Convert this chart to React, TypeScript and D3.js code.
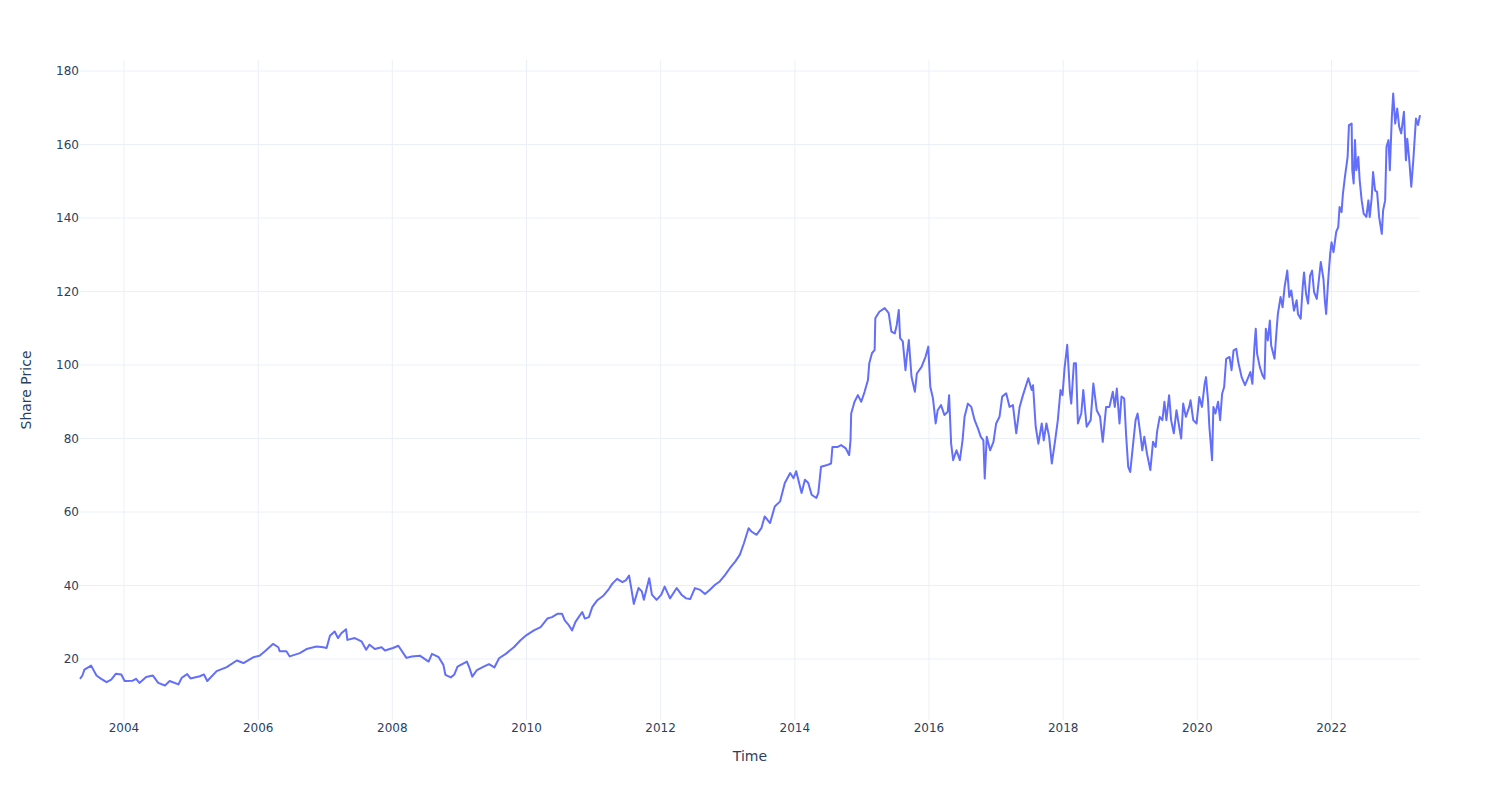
import React from "react";
import * as d3 from "d3";

// Time as decimal year, price
const times: number[] = [
  2003.344, 2003.38, 2003.41, 2003.51, 2003.59, 2003.66, 2003.74, 2003.81, 2003.88, 2003.96,
  2004.01, 2004.13, 2004.18, 2004.23, 2004.33, 2004.43, 2004.51, 2004.61, 2004.68, 2004.81,
  2004.86, 2004.94, 2004.99, 2005.13, 2005.19, 2005.24, 2005.38, 2005.53, 2005.68, 2005.78,
  2005.93, 2006.02, 2006.10, 2006.22, 2006.30, 2006.32, 2006.42, 2006.47, 2006.62, 2006.72,
  2006.87, 2006.97, 2007.02, 2007.07, 2007.14, 2007.19, 2007.24, 2007.31, 2007.33, 2007.44,
  2007.54, 2007.61, 2007.66, 2007.74, 2007.84, 2007.89, 2008.01, 2008.09, 2008.21, 2008.29,
  2008.41, 2008.54, 2008.59, 2008.69, 2008.76, 2008.79, 2008.87, 2008.92, 2008.97, 2009.04,
  2009.11, 2009.15, 2009.19, 2009.26, 2009.36, 2009.44, 2009.52, 2009.59, 2009.69, 2009.81,
  2009.91, 2010.00, 2010.11, 2010.21, 2010.31, 2010.38, 2010.46, 2010.53, 2010.57, 2010.63,
  2010.68, 2010.73, 2010.83, 2010.87, 2010.93, 2010.98, 2011.05, 2011.15, 2011.23, 2011.28,
  2011.35, 2011.43, 2011.48, 2011.53, 2011.56, 2011.60, 2011.67, 2011.72, 2011.75, 2011.83,
  2011.87, 2011.94, 2012.01, 2012.06, 2012.14, 2012.24, 2012.31, 2012.38, 2012.44, 2012.51,
  2012.59, 2012.66, 2012.73, 2012.81, 2012.88, 2012.96, 2013.03, 2013.11, 2013.18, 2013.24,
  2013.31, 2013.35, 2013.43, 2013.50, 2013.55, 2013.63, 2013.70, 2013.78, 2013.85, 2013.93,
  2013.98, 2014.02, 2014.10, 2014.15, 2014.20, 2014.25, 2014.32, 2014.35, 2014.39, 2014.47,
  2014.54, 2014.56, 2014.64, 2014.69, 2014.76, 2014.81, 2014.83, 2014.84, 2014.89, 2014.94,
  2014.99, 2015.04, 2015.09, 2015.11, 2015.15, 2015.19, 2015.20, 2015.26, 2015.34, 2015.40,
  2015.44, 2015.49, 2015.52, 2015.55, 2015.57, 2015.61, 2015.65, 2015.67, 2015.70, 2015.74,
  2015.79, 2015.82, 2015.89, 2015.95, 2015.99, 2016.02, 2016.06, 2016.10, 2016.13, 2016.18,
  2016.23, 2016.28, 2016.30, 2016.33, 2016.36, 2016.41, 2016.46, 2016.50, 2016.53, 2016.58,
  2016.63, 2016.68, 2016.73, 2016.77, 2016.81, 2016.83, 2016.86, 2016.91, 2016.96, 2017.00,
  2017.05, 2017.09, 2017.15, 2017.20, 2017.25, 2017.30, 2017.35, 2017.40, 2017.48, 2017.53,
  2017.55, 2017.59, 2017.63, 2017.68, 2017.71, 2017.75, 2017.79, 2017.83, 2017.88, 2017.92,
  2017.96, 2017.99, 2018.02, 2018.06, 2018.10, 2018.12, 2018.16, 2018.19, 2018.22, 2018.27,
  2018.30, 2018.35, 2018.41, 2018.45, 2018.50, 2018.55, 2018.59, 2018.64, 2018.69, 2018.74,
  2018.77, 2018.80, 2018.84, 2018.87, 2018.91, 2018.94, 2018.97, 2019.00, 2019.04, 2019.08,
  2019.11, 2019.15, 2019.18, 2019.21, 2019.25, 2019.30, 2019.34, 2019.38, 2019.40, 2019.44,
  2019.48, 2019.51, 2019.54, 2019.58, 2019.61, 2019.65, 2019.69, 2019.73, 2019.76, 2019.79,
  2019.83, 2019.88, 2019.90, 2019.94, 2019.99, 2020.03, 2020.07, 2020.11, 2020.13, 2020.16,
  2020.18, 2020.22, 2020.24, 2020.27, 2020.31, 2020.34, 2020.37, 2020.40, 2020.43, 2020.48,
  2020.51, 2020.54, 2020.58, 2020.61, 2020.66, 2020.71, 2020.76, 2020.79, 2020.82, 2020.85,
  2020.87, 2020.89, 2020.93, 2020.97, 2021.00, 2021.02, 2021.05, 2021.08, 2021.10, 2021.15,
  2021.18, 2021.20, 2021.24, 2021.27, 2021.30, 2021.34, 2021.37, 2021.40, 2021.44, 2021.48,
  2021.50, 2021.54, 2021.57, 2021.59, 2021.62, 2021.65, 2021.68, 2021.71, 2021.74, 2021.78,
  2021.81, 2021.84, 2021.88, 2021.90, 2021.92, 2021.95, 2021.98, 2022.00, 2022.03, 2022.07,
  2022.10, 2022.12, 2022.15, 2022.17, 2022.20, 2022.24, 2022.26, 2022.30, 2022.31, 2022.33,
  2022.35, 2022.37, 2022.40, 2022.42, 2022.45, 2022.48, 2022.52, 2022.55, 2022.57, 2022.60,
  2022.62, 2022.65, 2022.68, 2022.71, 2022.75, 2022.77, 2022.80, 2022.82, 2022.85, 2022.87,
  2022.90, 2022.92, 2022.95, 2022.98, 2023.01, 2023.04, 2023.08, 2023.11, 2023.13, 2023.16,
  2023.19, 2023.22, 2023.26, 2023.29, 2023.32,
];

const prices: number[] = [
  14.6, 15.5, 17.1, 18.2, 15.5, 14.6, 13.7, 14.4, 16.0, 15.8,
  14.0, 14.1, 14.6, 13.5, 15.1, 15.5, 13.5, 12.8, 14.0, 13.1,
  14.9, 15.9, 14.7, 15.3, 15.8, 14.0, 16.7, 17.8, 19.6, 18.9,
  20.5, 20.9, 22.1, 24.1, 23.2, 22.1, 22.1, 20.7, 21.6, 22.7,
  23.4, 23.2, 23.0, 26.3, 27.5, 25.7, 27.0, 28.1, 25.2, 25.7,
  24.8, 22.5, 23.9, 22.7, 23.2, 22.3, 23.0, 23.6, 20.3, 20.7,
  20.9, 19.3, 21.4, 20.5, 18.4, 15.7, 15.0, 15.7, 17.9, 18.6,
  19.3, 17.5, 15.2, 17.0, 17.9, 18.6, 17.7, 20.2, 21.4, 23.2,
  25.1, 26.5, 27.8, 28.7, 31.0, 31.4, 32.3, 32.3, 30.5, 29.2,
  27.8, 30.1, 32.8, 31.0, 31.4, 34.1, 35.9, 37.3, 39.1, 40.5,
  41.8, 40.9, 41.4, 42.7, 39.5, 35.0, 39.3, 38.4, 36.1, 42.0,
  37.5, 36.1, 37.5, 39.7, 36.5, 39.3, 37.5, 36.5, 36.3, 39.3,
  38.8, 37.7, 38.8, 40.2, 41.1, 42.9, 44.7, 46.5, 48.4, 51.5,
  55.6, 54.7, 53.8, 55.6, 58.8, 57.0, 61.5, 62.9, 67.9, 70.6,
  69.2, 71.1, 65.2, 68.8, 67.9, 64.7, 63.8, 65.2, 72.3, 72.7,
  73.2, 77.7, 77.7, 78.2, 77.3, 75.5, 79.5, 86.8, 90.0, 91.8,
  90.0, 92.7, 95.9, 100.5, 103.2, 104.1, 112.7, 114.5, 115.5, 114.1,
  109.1, 108.6, 110.9, 115.0, 107.3, 106.4, 98.6, 102.3, 106.8, 96.8,
  92.7, 97.7, 99.5, 102.3, 105.0, 94.1, 90.9, 84.1, 87.7, 89.1,
  86.4, 87.3, 91.8, 78.6, 74.1, 76.8, 74.1, 79.5, 85.9, 89.5,
  88.6, 85.0, 82.7, 80.5, 79.5, 69.1, 80.5, 76.8, 79.1, 84.1,
  85.9, 91.4, 92.3, 88.6, 89.1, 81.4, 88.6, 91.8, 96.4, 93.2,
  94.5, 83.2, 78.6, 84.1, 79.5, 84.1, 80.5, 73.2, 79.5, 85.0,
  93.2, 91.8, 99.1, 105.5, 92.7, 89.5, 100.5, 100.5, 84.1, 86.8,
  93.2, 83.2, 85.0, 95.0, 87.7, 85.9, 79.1, 88.6, 88.6, 92.7,
  88.6, 93.6, 84.1, 91.4, 90.9, 80.5, 72.3, 70.9, 78.0, 85.0,
  86.8, 81.4, 76.8, 80.5, 75.9, 71.4, 79.1, 77.7, 81.8, 85.9,
  85.0, 90.0, 85.0, 91.8, 85.0, 81.4, 87.7, 83.2, 80.0, 89.5,
  85.9, 88.6, 90.4, 85.0, 84.1, 91.3, 88.6, 94.9, 96.7, 90.4,
  83.2, 74.1, 88.6, 86.8, 90.0, 85.0, 92.2, 94.0, 101.7, 102.2,
  98.6, 104.0, 104.4, 100.8, 96.7, 94.5, 96.7, 98.1, 94.9, 104.9,
  109.9, 103.1, 99.5, 97.2, 96.3, 109.9, 106.7, 112.1, 105.3, 101.7,
  109.4, 113.9, 118.5, 115.7, 121.2, 125.7, 118.5, 120.3, 114.8, 117.6,
  113.9, 112.6, 121.2, 125.2, 119.4, 116.7, 124.3, 125.7, 119.8, 118.0,
  123.0, 128.0, 123.4, 117.6, 113.9, 123.0, 130.2, 133.4, 130.7, 136.2,
  137.5, 143.0, 141.6, 146.6, 151.2, 156.6, 165.3, 165.7, 153.0, 149.4,
  161.2, 153.0, 156.6, 150.3, 144.8, 141.2, 140.3, 144.8, 140.3, 145.7,
  152.5, 147.5, 147.1, 140.3, 135.7, 142.1, 144.8, 159.4, 161.2, 153.0,
  167.5, 173.9, 165.7, 169.8, 164.8, 163.0, 168.9, 155.7, 161.6, 155.7,
  148.5, 155.7, 167.1, 165.3, 168.0,
];

const yTicks: number[] = [20, 40, 60, 80, 100, 120, 140, 160, 180];
const xTickYears: number[] = [2004, 2006, 2008, 2010, 2012, 2014, 2016, 2018, 2020, 2022];

const WIDTH = 1500;
const HEIGHT = 800;
const M = { left: 80, right: 80, top: 60, bottom: 80 };
const FONT = '"DejaVu Sans", Verdana, sans-serif';
const TEXT_COLOR = "#2a3f5f";
const GRID = "#EBF0F8";
const LINE = "#636efa";

function toDate(y: number): Date {
  const yr = Math.floor(y);
  const start = Date.UTC(yr, 0, 1);
  const end = Date.UTC(yr + 1, 0, 1);
  return new Date(start + (y - yr) * (end - start));
}

export default function App() {
  const data = times.map((t, i) => ({ date: toDate(t), value: prices[i] }));
  const x = d3
    .scaleUtc()
    .domain(d3.extent(data, (d) => d.date) as [Date, Date])
    .range([M.left, WIDTH - M.right]);
  const y = d3
    .scaleLinear()
    .domain([3.4, 183])
    .range([HEIGHT - M.bottom, M.top]);

  const line = d3
    .line<{ date: Date; value: number }>()
    .x((d) => x(d.date))
    .y((d) => y(d.value));

  const plotTop = M.top;
  const plotBottom = HEIGHT - M.bottom;

  return (
    <svg
      width={WIDTH}
      height={HEIGHT}
      style={{ position: "absolute", left: 0, top: 0, background: "#fff" }}
      fontFamily={FONT}
    >
      <rect x={0} y={0} width={WIDTH} height={HEIGHT} fill="#fff" />
      {xTickYears.map((yr) => {
        const px = x(toDate(yr));
        return (
          <line key={"vx" + yr} x1={px} x2={px} y1={plotTop} y2={plotBottom} stroke={GRID} strokeWidth={1} />
        );
      })}
      {yTicks.map((v) => (
        <line key={"hy" + v} x1={M.left} x2={WIDTH - M.right} y1={y(v)} y2={y(v)} stroke={GRID} strokeWidth={1} />
      ))}
      <path d={line(data) || ""} fill="none" stroke={LINE} strokeWidth={2} strokeLinejoin="round" />
      {yTicks.map((v) => (
        <text key={"ty" + v} x={M.left - 1} y={y(v)} dy="0.36em" textAnchor="end" fontSize={12} fill={TEXT_COLOR}>
          {v}
        </text>
      ))}
      {xTickYears.map((yr) => (
        <text key={"tx" + yr} x={x(toDate(yr))} y={732} textAnchor="middle" fontSize={12} fill={TEXT_COLOR}>
          {yr}
        </text>
      ))}
      <text x={(M.left + WIDTH - M.right) / 2} y={761} textAnchor="middle" fontSize={14} fill={TEXT_COLOR}>
        Time
      </text>
      <text
        transform={`translate(31, ${(plotTop + plotBottom) / 2}) rotate(-90)`}
        textAnchor="middle"
        fontSize={14}
        fill={TEXT_COLOR}
      >
        Share Price
      </text>
    </svg>
  );
}
